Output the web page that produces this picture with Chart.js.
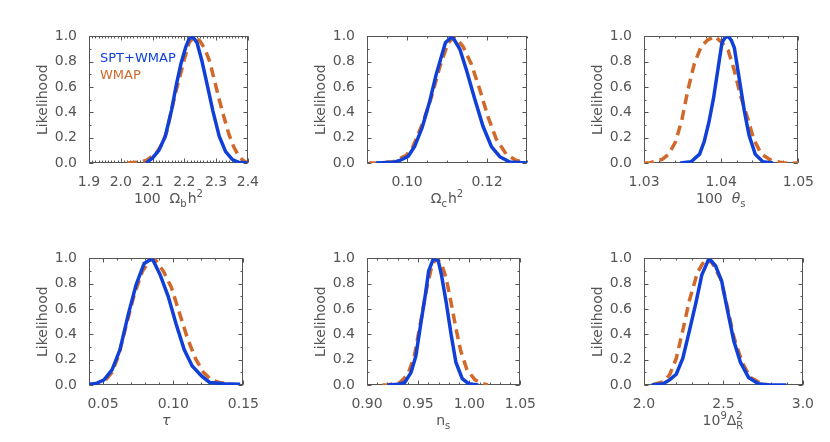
<!DOCTYPE html>
<html>
<head>
<meta charset="utf-8">
<script src="https://cdn.jsdelivr.net/npm/chart.js"></script>
<style>
  body { margin: 0; background: #fff; }
  #wrap { position: relative; width: 830px; height: 442px; overflow: hidden; }
  #wrap canvas { position: absolute; }
</style>
</head>
<body>
<div id="wrap"></div>
<script>
// Likelihood curves (x = parameter value, y = likelihood)

// 100 Omega_b h^2
const obX_spt  = [2.08, 2.10, 2.12, 2.14, 2.16, 2.175, 2.19, 2.205, 2.215, 2.226, 2.24, 2.255, 2.27, 2.29, 2.31, 2.33, 2.35, 2.37, 2.40];
const obY_spt  = [0.0, 0.04, 0.10, 0.21, 0.42, 0.62, 0.79, 0.92, 0.98, 1.0, 0.95, 0.81, 0.64, 0.41, 0.21, 0.09, 0.03, 0.005, 0.0];
const obX_wmap = [2.02, 2.05, 2.08, 2.11, 2.13, 2.145, 2.16, 2.175, 2.19, 2.20, 2.215, 2.232, 2.25, 2.265, 2.28, 2.295, 2.31, 2.325, 2.34, 2.355, 2.37, 2.385, 2.40];
const obY_wmap = [0.0, 0.005, 0.02, 0.07, 0.15, 0.25, 0.42, 0.58, 0.72, 0.82, 0.95, 1.0, 0.96, 0.90, 0.80, 0.65, 0.50, 0.36, 0.23, 0.13, 0.06, 0.02, 0.0];

// Omega_c h^2
const ocX_spt  = [0.0923, 0.0965, 0.0982, 0.1003, 0.1019, 0.1038, 0.1057, 0.1073, 0.1096, 0.1113, 0.1132, 0.1148, 0.1169, 0.1190, 0.1211, 0.1232, 0.1257, 0.1300];
const ocY_spt  = [0.0, 0.005, 0.02, 0.053, 0.13, 0.28, 0.49, 0.70, 0.95, 1.0, 0.90, 0.74, 0.51, 0.29, 0.13, 0.05, 0.007, 0.0];
const ocX_wmap = [0.0905, 0.0930, 0.0965, 0.0998, 0.1015, 0.1040, 0.1061, 0.1082, 0.1103, 0.1120, 0.1140, 0.1161, 0.1182, 0.1203, 0.1223, 0.1248, 0.1273, 0.1298];
const ocY_wmap = [0.0, 0.0, 0.01, 0.06, 0.13, 0.32, 0.52, 0.76, 0.95, 1.0, 0.92, 0.78, 0.58, 0.36, 0.19, 0.07, 0.02, 0.005];

// 100 theta_s
const thX_spt  = [1.0347, 1.0361, 1.0372, 1.0378, 1.0384, 1.0390, 1.0396, 1.0401, 1.0405, 1.0409, 1.0413, 1.0417, 1.0423, 1.0430, 1.0436, 1.0444, 1.0454, 1.0467];
const thY_spt  = [0.0, 0.01, 0.07, 0.17, 0.32, 0.51, 0.75, 0.95, 0.99, 1.0, 0.97, 0.91, 0.68, 0.41, 0.22, 0.07, 0.01, 0.0];
const thX_wmap = [1.0300, 1.0307, 1.0324, 1.0332, 1.0341, 1.0349, 1.0357, 1.0365, 1.0374, 1.0382, 1.0392, 1.0401, 1.0409, 1.0417, 1.0425, 1.0434, 1.0442, 1.0452, 1.0465, 1.0481, 1.0500];
const thY_wmap = [0.0, 0.0, 0.03, 0.07, 0.17, 0.34, 0.58, 0.78, 0.92, 0.97, 1.0, 0.95, 0.89, 0.73, 0.53, 0.36, 0.19, 0.07, 0.02, 0.0, 0.0];

// tau
const tauX_spt  = [0.040, 0.045, 0.0507, 0.0564, 0.0621, 0.0678, 0.0735, 0.0793, 0.085, 0.0907, 0.0964, 0.1021, 0.1078, 0.1135, 0.1203, 0.126, 0.1363, 0.1477];
const tauY_spt  = [0.005, 0.012, 0.04, 0.12, 0.28, 0.55, 0.79, 0.96, 1.0, 0.87, 0.70, 0.48, 0.28, 0.15, 0.07, 0.02, 0.01, 0.005];
const tauX_wmap = [0.0519, 0.0564, 0.0610, 0.0667, 0.0724, 0.0781, 0.0838, 0.0872, 0.0929, 0.0987, 0.1044, 0.1101, 0.1158, 0.1215, 0.1272, 0.1340, 0.1409];
const tauY_wmap = [0.04, 0.10, 0.23, 0.48, 0.72, 0.90, 0.99, 0.99, 0.90, 0.77, 0.57, 0.37, 0.21, 0.10, 0.04, 0.017, 0.007];

// n_s
const nsX_spt  = [0.9197, 0.9306, 0.9369, 0.9431, 0.9478, 0.9525, 0.9572, 0.9603, 0.9650, 0.9697, 0.9728, 0.9775, 0.9822, 0.9869, 0.9931, 0.9994, 1.0088];
const nsY_spt  = [0.0, 0.005, 0.02, 0.10, 0.23, 0.48, 0.72, 0.90, 1.0, 0.98, 0.87, 0.65, 0.40, 0.18, 0.05, 0.01, 0.0];
const nsX_wmap = [0.9150, 0.9197, 0.9322, 0.9400, 0.9463, 0.9525, 0.9588, 0.9634, 0.9675, 0.9728, 0.9775, 0.9822, 0.9869, 0.9916, 0.9978, 1.0056, 1.0134, 1.0181];
const nsY_wmap = [0.0, 0.0, 0.02, 0.085, 0.23, 0.50, 0.78, 0.94, 1.0, 0.96, 0.84, 0.65, 0.45, 0.27, 0.12, 0.04, 0.01, 0.0];

// 10^9 Delta_R^2
const asX_spt  = [2.048, 2.12, 2.161, 2.203, 2.244, 2.286, 2.327, 2.364, 2.41, 2.451, 2.489, 2.524, 2.565, 2.607, 2.658, 2.72, 2.783, 2.896];
const asY_spt  = [0.0, 0.01, 0.04, 0.085, 0.21, 0.43, 0.65, 0.87, 1.0, 0.94, 0.82, 0.60, 0.35, 0.18, 0.06, 0.01, 0.0, 0.0];
const asX_wmap = [2.058, 2.12, 2.161, 2.203, 2.244, 2.286, 2.337, 2.389, 2.431, 2.482, 2.524, 2.565, 2.617, 2.669, 2.741, 2.793];
const asY_wmap = [0.005, 0.025, 0.08, 0.21, 0.43, 0.67, 0.89, 1.0, 0.96, 0.84, 0.62, 0.38, 0.18, 0.06, 0.01, 0.0];

// tick labels
const obTicks  = [1.9, 2.0, 2.1, 2.2, 2.3, 2.4];
const ocTicks  = [0.10, 0.12];
const thTicks  = [1.03, 1.04, 1.05];
const tauTicks = [0.05, 0.10, 0.15];
const nsTicks  = [0.90, 0.95, 1.00, 1.05];
const asTicks  = [2.0, 2.5, 3.0];
const yTicks   = [0.0, 0.2, 0.4, 0.6, 0.8, 1.0];

const seriesNames = ['SPT+WMAP', 'WMAP'];

const SPT_COLOR = '#1040d8';
const WMAP_COLOR = '#d0692a';
const TEXT_COLOR = '#555';
const FONT = 'DejaVu Sans';

// canvas margins round each plot box
const PAD_L = 70, PAD_R = 20, PAD_T = 10, PAD_B = 60, BOX_H = 137;

const panels = [
    { left: 89, top: 26, width: 161, xmin: 1.9, xmax: 2.4, ticks: obTicks, minor: 0.01, dec: 1,
      title: [['100  ', ''], ['\u03A9', ''], ['b', 'sub'], ['h', ''], ['2', 'sup']],
      spt: [obX_spt, obY_spt], wmap: [obX_wmap, obY_wmap], legend: true },
    { left: 367, top: 26, width: 160, xmin: 0.09, xmax: 0.13, ticks: ocTicks, minor: 0.005, dec: 2,
      title: [['\u03A9', ''], ['c', 'sub'], ['h', ''], ['2', 'sup']],
      spt: [ocX_spt, ocY_spt], wmap: [ocX_wmap, ocY_wmap] },
    { left: 644, top: 26, width: 161, xmin: 1.03, xmax: 1.05, ticks: thTicks, minor: 0.002, dec: 2,
      title: [['100  ', ''], ['\u03B8', 'i'], ['s', 'sub']],
      spt: [thX_spt, thY_spt], wmap: [thX_wmap, thY_wmap] },
    { left: 89, top: 248, width: 161, xmin: 0.04, xmax: 0.15, ticks: tauTicks, minor: 0.01, dec: 2,
      title: [['\u03C4', 'i']],
      spt: [tauX_spt, tauY_spt], wmap: [tauX_wmap, tauY_wmap] },
    { left: 367, top: 248, width: 160, xmin: 0.90, xmax: 1.05, ticks: nsTicks, minor: 0.01, dec: 2,
      title: [['n', ''], ['s', 'sub']],
      spt: [nsX_spt, nsY_spt], wmap: [nsX_wmap, nsY_wmap] },
    { left: 644, top: 248, width: 161, xmin: 2.0, xmax: 3.0, ticks: asTicks, minor: 0.1, dec: 1,
      title: [['10', ''], ['9', 'sup'], ['\u0394', ''], ['R', 'subsup', '2']],
      spt: [asX_spt, asY_spt], wmap: [asX_wmap, asY_wmap] }
];

function toPoints(xs, ys) {
    return xs.map((x, i) => ({ x: x, y: ys[i] }));
}

function minorValues(min, max, step) {
    const out = [];
    for (let k = Math.ceil(min / step - 1e-6); k <= Math.floor(max / step + 1e-6); k++) out.push(k * step);
    return out;
}

function partFont(kind) {
    if (kind === 'i') return 'italic 14px "' + FONT + '"';
    if (kind === 'sub' || kind === 'sup' || kind === 'subsup') return '10px "' + FONT + '"';
    return '14px "' + FONT + '"';
}

function partWidth(ctx, p) {
    ctx.font = partFont(p[1]);
    let w = ctx.measureText(p[0]).width;
    if (p[1] === 'subsup') w = Math.max(w, ctx.measureText(p[2]).width);
    return w + (p[1] === 'sub' || p[1] === 'subsup' ? 1 : 0);
}

function drawTitle(ctx, parts, cx, baseY) {
    let total = 0;
    parts.forEach(p => { total += partWidth(ctx, p); });
    let x = cx - total / 2;
    ctx.textAlign = 'left';
    ctx.textBaseline = 'alphabetic';
    parts.forEach(p => {
        ctx.font = partFont(p[1]);
        if (p[1] === 'sub') ctx.fillText(p[0], x, baseY + 4);
        else if (p[1] === 'sup') ctx.fillText(p[0], x, baseY - 6);
        else if (p[1] === 'subsup') {
            ctx.fillText(p[0], x, baseY + 4);
            ctx.fillText(p[2], x, baseY - 6);
        } else ctx.fillText(p[0], x, baseY);
        x += partWidth(ctx, p);
    });
}

// Box round the plot with inward ticks on all four sides, IDL style
const boxTicks = {
    id: 'boxTicks',
    beforeDatasetsDraw(chart, args, opts) {
        const ctx = chart.ctx, a = chart.chartArea;
        const sx = chart.scales.x, sy = chart.scales.y;
        const L = Math.round(a.left) + 0.5, R = Math.round(a.right) - 0.5;
        const T = Math.round(a.top) + 0.5, B = Math.round(a.bottom) - 0.5;
        ctx.save();
        ctx.strokeStyle = '#555';
        ctx.lineWidth = 1;
        ctx.strokeRect(L, T, R - L, B - T);
        ctx.beginPath();
        const mark = (list, len, horiz) => {
            list.forEach(v => {
                if (horiz) {
                    const px = Math.round(sx.getPixelForValue(v)) + 0.5;
                    ctx.moveTo(px, B); ctx.lineTo(px, B - len);
                    ctx.moveTo(px, T); ctx.lineTo(px, T + len);
                } else {
                    const py = Math.round(sy.getPixelForValue(v)) + 0.5;
                    ctx.moveTo(L, py); ctx.lineTo(L + len, py);
                    ctx.moveTo(R, py); ctx.lineTo(R - len, py);
                }
            });
        };
        mark(minorValues(sx.min, sx.max, opts.minorX), 2, true);
        mark(sx.ticks.map(t => t.value), 4, true);
        mark(minorValues(sy.min, sy.max, opts.minorY), 2, false);
        mark(sy.ticks.map(t => t.value), 4, false);
        ctx.stroke();
        ctx.restore();
    },
    afterDraw(chart, args, opts) {
        const ctx = chart.ctx, a = chart.chartArea;
        ctx.save();
        ctx.fillStyle = TEXT_COLOR;
        drawTitle(ctx, opts.title, (a.left + a.right) / 2, a.bottom + 40);
        if (opts.legend) {
            ctx.font = '13px "' + FONT + '"';
            ctx.textAlign = 'left';
            ctx.textBaseline = 'alphabetic';
            ctx.fillStyle = SPT_COLOR;
            ctx.fillText(seriesNames[0], a.left + 11, a.top + 26);
            ctx.fillStyle = WMAP_COLOR;
            ctx.fillText(seriesNames[1], a.left + 11, a.top + 43);
        }
        ctx.restore();
    }
};

function makePanel(p) {
    const cv = document.createElement('canvas');
    const W = PAD_L + p.width + PAD_R, H = PAD_T + BOX_H + PAD_B;
    cv.width = W;
    cv.height = H;
    cv.style.left = (p.left - PAD_L) + 'px';
    cv.style.top = (p.top - PAD_T) + 'px';
    cv.style.width = W + 'px';
    cv.style.height = H + 'px';
    document.getElementById('wrap').appendChild(cv);

    const tickFont = { family: FONT, size: 14 };
    return new Chart(cv, {
        type: 'line',
        data: {
            datasets: [{
                label: seriesNames[0],
                data: toPoints(p.spt[0], p.spt[1]),
                borderColor: SPT_COLOR,
                borderWidth: 3.5,
                pointRadius: 0,
                tension: 0,
                fill: false
            }, {
                label: seriesNames[1],
                data: toPoints(p.wmap[0], p.wmap[1]),
                borderColor: WMAP_COLOR,
                borderWidth: 3.5,
                borderDash: [10, 6],
                pointRadius: 0,
                tension: 0,
                fill: false
            }]
        },
        options: {
            responsive: false,
            animation: false,
            events: [],
            layout: { padding: { left: 0, top: PAD_T, right: PAD_R, bottom: 0 } },
            plugins: {
                legend: { display: false },
                tooltip: { enabled: false },
                boxTicks: { minorX: p.minor, minorY: 0.1, title: p.title, legend: !!p.legend }
            },
            scales: {
                x: {
                    type: 'linear',
                    min: p.xmin,
                    max: p.xmax,
                    afterFit: s => { s.height = PAD_B; },
                    afterBuildTicks: s => { s.ticks = p.ticks.map(v => ({ value: v })); },
                    grid: { display: false, drawTicks: false },
                    border: { display: false },
                    ticks: {
                        autoSkip: false,
                        maxRotation: 0,
                        padding: 11,
                        color: TEXT_COLOR,
                        font: tickFont,
                        callback: v => v.toFixed(p.dec)
                    }
                },
                y: {
                    type: 'linear',
                    min: 0,
                    max: 1,
                    afterFit: s => { s.width = PAD_L; },
                    afterBuildTicks: s => { s.ticks = yTicks.map(v => ({ value: v })); },
                    grid: { display: false, drawTicks: false },
                    border: { display: false },
                    ticks: {
                        padding: 12,
                        color: TEXT_COLOR,
                        font: tickFont,
                        callback: v => v.toFixed(1)
                    },
                    title: {
                        display: true,
                        text: 'Likelihood',
                        color: TEXT_COLOR,
                        font: tickFont,
                        padding: { top: 16, bottom: 0 }
                    }
                }
            }
        },
        plugins: [boxTicks]
    });
}

panels.forEach(makePanel);
</script>
</body>
</html>
